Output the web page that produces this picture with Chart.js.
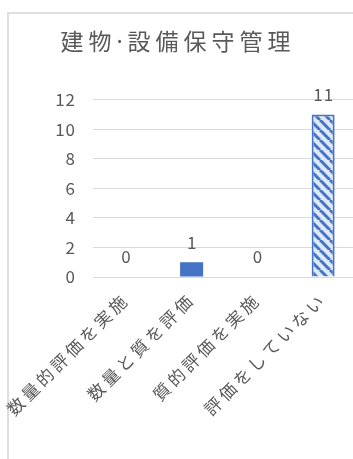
<!DOCTYPE html>
<html>
<head>
<meta charset="utf-8">
<script src="https://cdn.jsdelivr.net/npm/chart.js@4.4.1/dist/chart.umd.min.js"></script>
<style>
    html, body { margin: 0; padding: 0; background: #fff; overflow: hidden; }
    #frame {
        position: absolute; left: 7px; top: 12px; width: 400px; height: 500px;
        border-left: 2px solid #dedede; border-top: 2px solid #dedede;
    }
    #wrap { position: absolute; left: 0; top: 0; width: 361px; height: 459px; }
</style>
</head>
<body>
<div id="frame"></div>
<div id="wrap"><canvas id="chart" width="361" height="459"></canvas></div>
<script>
// chart data
const title = '建物·設備保守管理';
const categories = ['数量的評価を実施', '数量と質を評価', '質的評価を実施', '評価をしていない'];
const counts = [0, 1, 0, 11];
const yTicks = [0, 2, 4, 6, 8, 10, 12];

const fontFamily = '"Noto Sans CJK JP", "Noto Sans", sans-serif';
const textColor = '#595959';
const blue = '#4472C4';

// hatched fill for the last bar
function makeHatch() {
    const c = document.createElement('canvas');
    c.width = 10;
    c.height = 10;
    const g = c.getContext('2d');
    g.fillStyle = '#dde8f8';
    g.fillRect(0, 0, 10, 10);
    g.strokeStyle = blue;
    g.lineWidth = 3;
    g.beginPath();
    [-10, 0, 10].forEach(function (k) {
        g.moveTo(k, 0);
        g.lineTo(k + 10, 10);
    });
    g.stroke();
    return g.createPattern(c, 'repeat');
}

const hatch = makeHatch();

// run a draw method with some letter spacing on the canvas
function withSpacing(obj, method, spacing) {
    const orig = obj[method];
    obj[method] = function () {
        const ctx = this.ctx;
        const prev = ctx.letterSpacing;
        ctx.letterSpacing = spacing;
        const r = orig.apply(this, arguments);
        ctx.letterSpacing = prev;
        return r;
    };
}

// value labels above each bar
const valueLabels = {
    id: 'valueLabels',
    afterDatasetsDraw: function (chart) {
        const ctx = chart.ctx;
        const meta = chart.getDatasetMeta(0);
        ctx.save();
        ctx.letterSpacing = '1px';
        ctx.font = '17px ' + fontFamily;
        ctx.fillStyle = textColor;
        ctx.textAlign = 'center';
        ctx.textBaseline = 'middle';
        meta.data.forEach(function (bar, i) {
            ctx.fillText(String(counts[i]), bar.x + 0.5, bar.y - 20);
        });
        ctx.restore();
    }
};

const chart = new Chart(document.getElementById('chart'), {
    type: 'bar',
    data: {
        labels: categories,
        datasets: [{
            data: counts,
            backgroundColor: [blue, blue, blue, hatch],
            borderColor: blue,
            borderWidth: [0, 0, 0, 2],
            categoryPercentage: 1,
            barPercentage: 0.35
        }]
    },
    options: {
        responsive: false,
        animation: false,
        devicePixelRatio: 1,
        layout: { padding: { left: 0, right: 5, top: 0, bottom: 0 } },
        plugins: {
            legend: { display: false },
            tooltip: { enabled: false },
            title: {
                display: true,
                text: title,
                color: textColor,
                font: { family: '"Noto Sans", "Noto Sans CJK JP", sans-serif', size: 23, weight: 'normal' },
                padding: { top: 30, bottom: 42 }
            }
        },
        scales: {
            x: {
                grid: { display: false, drawTicks: false },
                border: { display: false },
                ticks: {
                    color: textColor,
                    font: { family: fontFamily, size: 17 },
                    minRotation: 45,
                    maxRotation: 45,
                    padding: 12
                },
                afterFit: function (scale) {
                    scale.height = 182;
                    scale.paddingLeft = 0;
                    scale.paddingRight = 0;
                }
            },
            y: {
                min: 0,
                max: 12,
                grid: { color: '#d9d9d9', lineWidth: 1, drawTicks: false },
                border: { display: false },
                ticks: {
                    stepSize: 2,
                    color: textColor,
                    font: { family: fontFamily, size: 17 },
                    padding: 17,
                    callback: function (v) { return yTicks.includes(v) ? v : ''; }
                },
                afterFit: function (scale) { scale.width = 93; }
            }
        }
    },
    plugins: [valueLabels]
});

withSpacing(chart.titleBlock, 'draw', '5px');
withSpacing(chart.scales.x, 'drawLabels', '3.5px');
withSpacing(chart.scales.y, 'drawLabels', '1px');
chart.draw();
</script>
</body>
</html>
